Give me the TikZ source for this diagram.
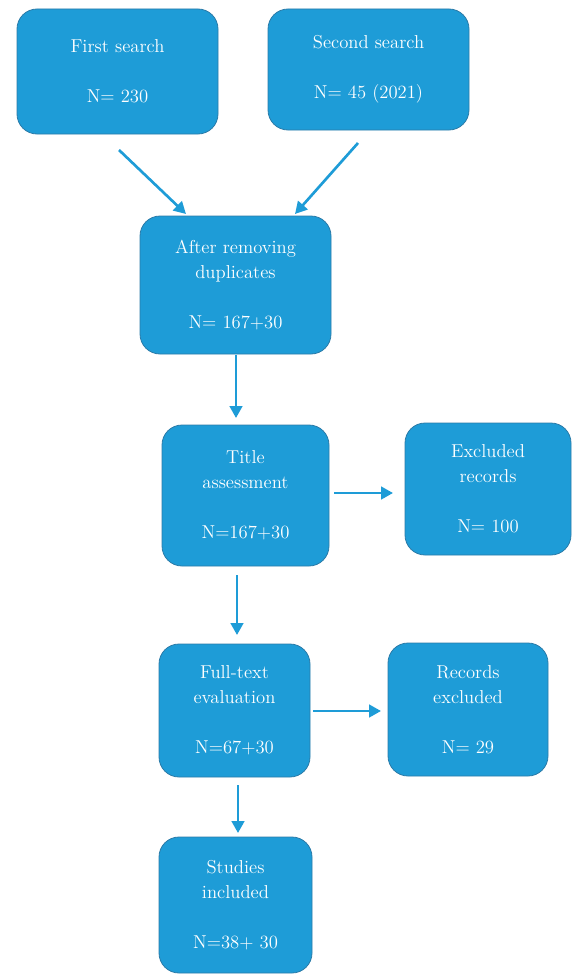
\documentclass[tikz,border=0pt]{standalone}
\usepackage{xcolor}
\usetikzlibrary{arrows.meta, calc}

\definecolor{boxblue}{HTML}{1E9CD7}
\definecolor{boxedge}{HTML}{2B7BA8}

\begin{document}
\begin{tikzpicture}[x=0.75pt, y=-0.75pt,
    box/.style={draw=boxedge, line width=0.6pt, fill=boxblue, rounded corners=15pt,
        text=white, align=center, inner sep=0pt, outer sep=0pt,
        font=\fontsize{14}{18.75}\selectfont},
    arr/.style={draw=boxblue, line width=2pt, -{Triangle[length=9pt, width=9.5pt]}}]
\useasboundingbox (0,0) rectangle (571,974);

% Boxes
\node[box, minimum width=150.75pt, minimum height=93.75pt] (first) at (117.5,71.5) {First search\\[18.75pt]N= 230};
\node[box, minimum width=150.75pt, minimum height=90.75pt] (second) at (368.5,69.5) {Second search\\[18.75pt]N= 45 (2021)};
\node[box, minimum width=143.25pt, minimum height=103.5pt] (dup) at (235.5,285) {After removing\\duplicates\\[18.75pt]N= 167+30};
\node[box, minimum width=125.25pt, minimum height=105.75pt] (title) at (245.5,495.5) {Title\\assessment\\[18.75pt]N=167+30};
\node[box, minimum width=124.5pt, minimum height=99pt] (excl) at (488,489) {Excluded\\records\\[18.75pt]N= 100};
\node[box, minimum width=113.25pt, minimum height=99.75pt] (full) at (234.5,710.5) {Full-text\\evaluation\\[18.75pt]N=67+30};
\node[box, minimum width=120pt, minimum height=99.75pt] (rec) at (468,709.5) {Records\\excluded\\[18.75pt]N= 29};
\node[box, minimum width=114.75pt, minimum height=102pt] (studies) at (235.5,905) {Studies\\included\\[18.75pt]N=38+ 30};

% Arrows
\draw[arr] ($(first.south)+(1.5,16)$) -- ($(dup.north)+(-49.5,-2)$);
\draw[arr] ($(second.south)+(-10.5,13)$) -- ($(dup.north)+(59.5,-2)$);
\draw[arr] ($(dup.south)+(0.5,1)$) -- ($(title.north)+(-9.5,-7)$);
\draw[arr] ($(title.east)+(5,-2.5)$) -- ($(excl.west)+(-12,4)$);
\draw[arr] ($(title.south)+(-8.5,9)$) -- ($(full.north)+(2.5,-9)$);
\draw[arr] ($(full.east)+(3,0.5)$) -- ($(rec.west)+(-7,1.5)$);
\draw[arr] ($(full.south)+(3.5,8)$) -- ($(studies.north)+(2.5,-4)$);
\end{tikzpicture}
\end{document}
